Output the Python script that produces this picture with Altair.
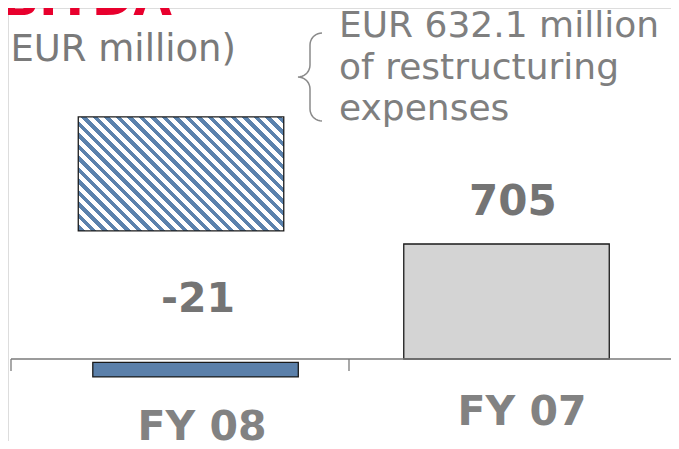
import altair as alt
import pandas as pd
import numpy as np

# ---------------- data ----------------
categories = ["FY 08", "FY 07"]
values = [-21, 705]                 # EBITDA, EUR million
value_labels = ["-21", "705"]
restructuring = 632.1               # EUR million, hatched block above FY 08

# schematic layout (x in category-slot units, y in EUR million)
bar_centers = [0.546, 1.466]
bar_far_end = [-110, 0]             # FY 08 block drawn below the axis
bar_colors = ["#5b80aa", "#d4d4d4"]
hatch_center = 0.503
hatch_bottom, hatch_top = 785, 1484
value_label_x = [0.553, 1.485]
cat_label_x = [0.565, 1.512]
tick_slots = [0, 1]

# ---------------- scales ----------------
W, H = 663, 433
PX_PER_SLOT = 338.0
UNITS_PER_PX = 705 / 115.0
X0_PX = 3.0          # svg x of slot 0
BASE_PX = 351.0      # svg y of value 0
xdom = [-X0_PX / PX_PER_SLOT, (W - X0_PX) / PX_PER_SLOT]
ydom = [-(H - BASE_PX) * UNITS_PER_PX, BASE_PX * UNITS_PER_PX]
xs = alt.Scale(domain=xdom, nice=False, zero=False)
ys = alt.Scale(domain=ydom, nice=False, zero=False)
HALF = 0.304

def px_x(px):
    return (px - X0_PX) / PX_PER_SLOT

def px_y(py):
    return (BASE_PX - py) * UNITS_PER_PX

X = lambda f: alt.X(f, type="quantitative", scale=xs, axis=None)
Y = lambda f: alt.Y(f, type="quantitative", scale=ys, axis=None)
Y0 = alt.Y(datum=0, scale=ys, axis=None)

# ---------------- bars ----------------
bars_df = pd.DataFrame({
    "cat": categories,
    "x": [c - HALF for c in bar_centers],
    "x2": [c + HALF for c in bar_centers],
    "y": bar_far_end,
    "y2": values,
    "color": bar_colors,
})
bars = alt.Chart(bars_df).mark_rect(stroke="#1a1a1a", strokeWidth=1.3).encode(
    x=X("x"), x2="x2", y=Y("y"), y2="y2",
    fill=alt.Fill("color:N", scale=None),
)

# hatched restructuring block (stripes through a hard-stop gradient)
w_px = 2 * HALF * PX_PER_SLOT
h_px = (hatch_top - hatch_bottom) / UNITS_PER_PX
f = (w_px + h_px) / (w_px ** 2 + h_px ** 2)
x2g, y2g = w_px * f, 1 - h_px * f
period = 11.5 / (w_px + h_px)
blue_frac = 0.5
stops = [{"offset": 0.0, "color": "#ffffff"}]
a = 0.004
while a < 1:
    b = min(a + period * blue_frac, 1.0)
    stops += [{"offset": round(a, 5), "color": "#ffffff"},
              {"offset": round(a, 5), "color": "#5b82ad"},
              {"offset": round(b, 5), "color": "#5b82ad"},
              {"offset": round(b, 5), "color": "#ffffff"}]
    a += period
stops.append({"offset": 1.0, "color": "#ffffff"})
hatch_fill = {"gradient": "linear", "x1": 0, "y1": 1, "x2": x2g, "y2": y2g, "stops": stops}

hatch_df = pd.DataFrame({"x": [hatch_center - HALF], "x2": [hatch_center + HALF],
                         "y": [hatch_bottom], "y2": [hatch_top],
                         "amount": [restructuring]})
hatch = alt.Chart(hatch_df).mark_rect(fill=hatch_fill, stroke="#1a1a1a", strokeWidth=1.3).encode(
    x=X("x"), x2="x2", y=Y("y"), y2="y2")

# ---------------- axis ----------------
axis_df = pd.DataFrame({"x": [0.0], "x2": [px_x(671)], "y": [0.0]})
axis_line = alt.Chart(axis_df).mark_rule(color="#7a7a7a", strokeWidth=1.3).encode(
    x=X("x"), x2="x2", y=Y("y"))
ticks_df = pd.DataFrame({"x": tick_slots, "y": [0.0, 0.0], "y2": [-12 * UNITS_PER_PX] * 2})
ticks = alt.Chart(ticks_df).mark_rule(color="#7a7a7a", strokeWidth=1.3).encode(
    x=X("x"), y=Y("y"), y2="y2")

# ---------------- labels ----------------
lab_df = pd.DataFrame({"cat": categories, "v": values, "label": value_labels,
                       "lx": value_label_x, "cx": cat_label_x})
v08 = alt.Chart(lab_df[lab_df.cat == "FY 08"]).mark_text(
    font="DejaVu Sans", fontWeight="bold", fontSize=41, color="#747474",
    baseline="alphabetic", dy=-47).encode(x=X("lx"), y=Y0, text="label:N")
v07 = alt.Chart(lab_df[lab_df.cat == "FY 07"]).mark_text(
    font="DejaVu Sans", fontWeight="bold", fontSize=42, color="#747474",
    baseline="alphabetic", dy=-29).encode(x=X("lx"), y=Y("v"), text="label:N")
c08 = alt.Chart(lab_df[lab_df.cat == "FY 08"]).mark_text(
    font="DejaVu Sans", fontWeight="bold", fontSize=41, color="#828282",
    baseline="alphabetic", dy=81).encode(x=X("cx"), y=Y0, text="cat:N")
c07 = alt.Chart(lab_df[lab_df.cat == "FY 07"]).mark_text(
    font="DejaVu Sans", fontWeight="bold", fontSize=41, color="#828282",
    baseline="alphabetic", dy=66).encode(x=X("cx"), y=Y0, text="cat:N")

# ---------------- brace ----------------
pts = []
def arc(cx, cy, r, t0, t1, n=10):
    for t in np.linspace(t0, t1, n):
        pts.append((cx + r * np.cos(t), cy + r * np.sin(t)))
arc(314, 37, 12, -np.pi / 2, -np.pi)
arc(290, 57, 12, 0, np.pi / 2)
arc(290, 81, 12, -np.pi / 2, 0)
arc(314, 101, 12, np.pi, np.pi / 2)
brace_df = pd.DataFrame({"i": range(len(pts)),
                         "x": [px_x(p[0]) for p in pts],
                         "y": [px_y(p[1]) for p in pts]})
brace = alt.Chart(brace_df).mark_line(color="#8a8a8a", strokeWidth=1.5).encode(
    x=X("x"), y=Y("y"), order="i:Q")

note = alt.Chart(pd.DataFrame({"t": [0]})).mark_text(
    font="DejaVu Sans", fontSize=36, color="#7f7f7f", align="left",
    baseline="alphabetic", lineHeight=41.5).encode(
    x=alt.value(331), y=alt.value(29),
    text=alt.value(["EUR 632.1 million", "of restructuring", "expenses"]))

unit = alt.Chart(pd.DataFrame({"t": [0]})).mark_text(
    font="DejaVu Sans", fontSize=37, color="#7a7a7a", align="right",
    baseline="alphabetic").encode(x=alt.value(228), y=alt.value(53),
                                  text=alt.value("(in EUR million)"))
title = alt.Chart(pd.DataFrame({"t": [0]})).mark_text(
    font="DejaVu Sans", fontSize=50, fontWeight="bold", color="#e8002d", align="right",
    baseline="alphabetic").encode(x=alt.value(164), y=alt.value(7),
                                  text=alt.value("EBITDA"))

chart = alt.layer(
    hatch, bars, axis_line, ticks, v08, v07, c08, c07, brace, note, unit, title
).properties(
    width=W, height=H, autosize=alt.AutoSizeParams(type="none"), padding=0
).configure_view(stroke=None).configure(background="white")

chart.save("out.html", embed_options={"renderer": "svg", "actions": False})
